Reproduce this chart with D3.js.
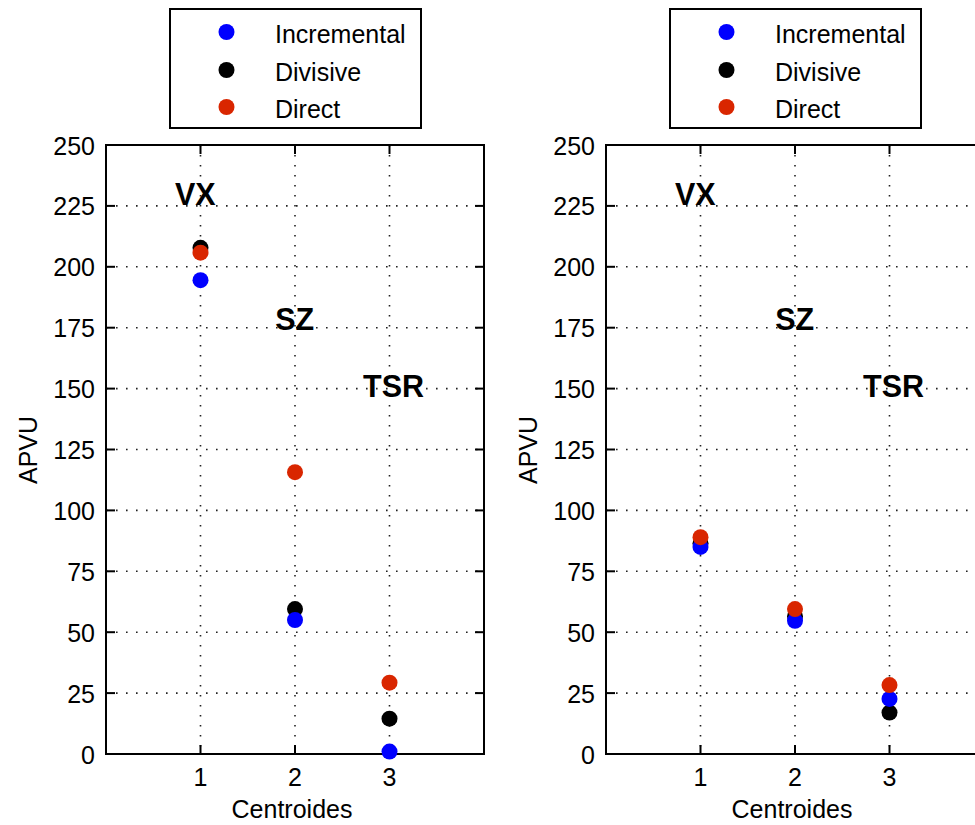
<!DOCTYPE html>
<html>
<head>
<meta charset="utf-8">
<script src="https://cdn.jsdelivr.net/npm/d3@7"></script>
<style>
  html, body { margin: 0; padding: 0; background: #fff; }
  svg { display: block; }
  text { font-family: "Liberation Sans", Arial, sans-serif; fill: #000; }
</style>
</head>
<body>
<svg id="chart" width="975" height="825"></svg>
<script>
// ---- data ----
const categories = [1, 2, 3];
const xTicks = [1, 2, 3];
const yTicks = [0, 25, 50, 75, 100, 125, 150, 175, 200, 225, 250];
const seriesNames = ["Incremental", "Divisive", "Direct"];
const seriesColors = ["#0000ff", "#000000", "#d92600"];

const leftIncremental = [194.5, 55, 1];
const leftDivisive = [207.8, 59.5, 14.5];
const leftDirect = [205.8, 115.7, 29.3];

const rightIncremental = [85, 54.7, 22.6];
const rightDivisive = [86.5, 56.5, 17];
const rightDirect = [89, 59.5, 28.3];

const annotationText = ["VX", "SZ", "TSR"];
const annotationX = [0.73, 1.79, 2.72];
const annotationY = [225.5, 174, 146.5];

const xLabel = "Centroides";
const yLabel = "APVU";

// ---- drawing ----
const svg = d3.select("#chart");
const drawOrder = [1, 0, 2]; // Divisive, Incremental, Direct (Direct on top)

function panel(x0, values) {
  const W = 378, top = 145, bottom = 754;
  const x = d3.scaleLinear().domain([0, 4]).range([x0, x0 + W]);
  const y = d3.scaleLinear().domain([0, 250]).range([bottom, top]);
  const g = svg.append("g");

  // grid
  const gridAttrs = s => s.attr("stroke", "#222").attr("stroke-width", 1.6)
    .attr("stroke-dasharray", "1.6,8.4").attr("fill", "none");
  g.selectAll(".vg").data(xTicks).join("line")
    .attr("x1", d => x(d)).attr("x2", d => x(d))
    .attr("y1", top).attr("y2", bottom).call(gridAttrs);
  g.selectAll(".hg").data(yTicks.filter(d => d > 0 && d < 250)).join("line")
    .attr("x1", x0).attr("x2", x0 + W)
    .attr("y1", d => y(d)).attr("y2", d => y(d)).call(gridAttrs);

  // frame
  g.append("rect").attr("x", x0).attr("y", top).attr("width", W).attr("height", bottom - top)
    .attr("fill", "none").attr("stroke", "#000").attr("stroke-width", 2);

  // ticks (inward, both sides)
  const TL = 9;
  yTicks.forEach(t => {
    g.append("line").attr("x1", x0).attr("x2", x0 + TL).attr("y1", y(t)).attr("y2", y(t))
      .attr("stroke", "#000").attr("stroke-width", 2);
    g.append("line").attr("x1", x0 + W).attr("x2", x0 + W - TL).attr("y1", y(t)).attr("y2", y(t))
      .attr("stroke", "#000").attr("stroke-width", 2);
  });
  xTicks.forEach(t => {
    g.append("line").attr("x1", x(t)).attr("x2", x(t)).attr("y1", bottom).attr("y2", bottom - TL)
      .attr("stroke", "#000").attr("stroke-width", 2);
    g.append("line").attr("x1", x(t)).attr("x2", x(t)).attr("y1", top).attr("y2", top + TL)
      .attr("stroke", "#000").attr("stroke-width", 2);
  });

  // tick labels
  g.selectAll(".yl").data(yTicks).join("text")
    .attr("x", x0 - 11).attr("y", d => y(d) + 9.5)
    .attr("text-anchor", "end").attr("font-size", 25).text(d => d);
  g.selectAll(".xl").data(xTicks).join("text")
    .attr("x", d => x(d)).attr("y", bottom + 32)
    .attr("text-anchor", "middle").attr("font-size", 25).text(d => d);

  // axis labels
  g.append("text").attr("x", x0 + W / 2 - 3).attr("y", 818)
    .attr("text-anchor", "middle").attr("font-size", 25).text(xLabel);
  g.append("text").attr("transform", `translate(${x0 - 69},450) rotate(-90)`)
    .attr("text-anchor", "middle").attr("font-size", 25).text(yLabel);

  // annotations
  annotationText.forEach((t, i) => {
    g.append("text").attr("x", x(annotationX[i])).attr("y", y(annotationY[i]))
      .attr("font-size", 30.5).attr("font-weight", "bold").text(t);
  });

  // points
  drawOrder.forEach(si => {
    g.selectAll(null).data(categories.map((c, i) => [c, values[si][i]])).join("circle")
      .attr("cx", d => x(d[0])).attr("cy", d => y(d[1])).attr("r", 8)
      .attr("fill", seriesColors[si]);
  });

  // legend
  const lg = g.append("g");
  lg.append("rect").attr("x", x0 + 64).attr("y", 9).attr("width", 251).attr("height", 119)
    .attr("fill", "#fff").attr("stroke", "#000").attr("stroke-width", 2);
  const rowY = [32, 70, 107];
  seriesNames.forEach((n, i) => {
    lg.append("circle").attr("cx", x0 + 120.5).attr("cy", rowY[i]).attr("r", 8)
      .attr("fill", seriesColors[i]);
    lg.append("text").attr("x", x0 + 169).attr("y", rowY[i] + 10.5)
      .attr("font-size", 25).text(n);
  });
}

panel(106, [leftIncremental, leftDivisive, leftDirect]);
panel(606, [rightIncremental, rightDivisive, rightDirect]);
</script>
</body>
</html>
